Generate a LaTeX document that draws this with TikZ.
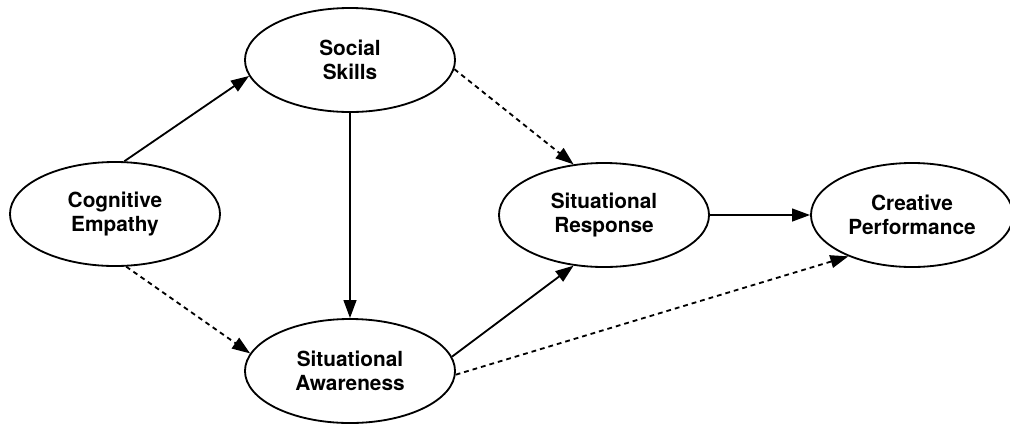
\documentclass[tikz,border=0pt]{standalone}
\usepackage{fontspec}
\setmainfont{TeX Gyre Heros}
\usetikzlibrary{arrows.meta, positioning, shapes.geometric}

\begin{document}
\begin{tikzpicture}[
    x=0.025cm, y=-0.025cm,
    construct/.style={ellipse, draw, line width=1.3pt,
                minimum width=5.25cm, minimum height=2.6cm, inner sep=0pt,
                align=center, font=\bfseries\fontsize{14.8}{17}\selectfont},
    arrow/.style={-{Triangle[length=4.5mm, width=3.2mm]}, line width=1.3pt},
    nsarrow/.style={arrow, dash pattern=on 1.2mm off 1mm},
]
\useasboundingbox (0,0) rectangle (1010,423);

% ── Constructs (coordinates in px, y downwards) ────────────────────
\node[construct] (ce) at (115,214) {Cognitive\\Empathy};
\node[construct] (ss) at (350, 60) {Social\\Skills};
\node[construct] (sa) at (350,371) {Situational\\Awareness};
\node[construct] (sr) at (604,215) {Situational\\Response};
\node[construct, minimum width=5.05cm]
                 (cp) at (912,215) {Creative\\Performance};

% ── Paths ──────────────────────────────────────────────────────────
% significant (solid)
\draw[arrow] (ce.80)   -- (ss.189);
\draw[arrow] (ss)      -- (sa);
\draw[arrow] (sa.8)    -- (sr.-121);
\draw[arrow] (sr)      -- (cp);

% not significant (dashed)
\draw[nsarrow] (ce.-78) -- (sa.170);
\draw[nsarrow] (ss.-5)  -- (sr.121);
\draw[nsarrow] (sa.-2)  -- (cp.213);

\end{tikzpicture}
\end{document}
